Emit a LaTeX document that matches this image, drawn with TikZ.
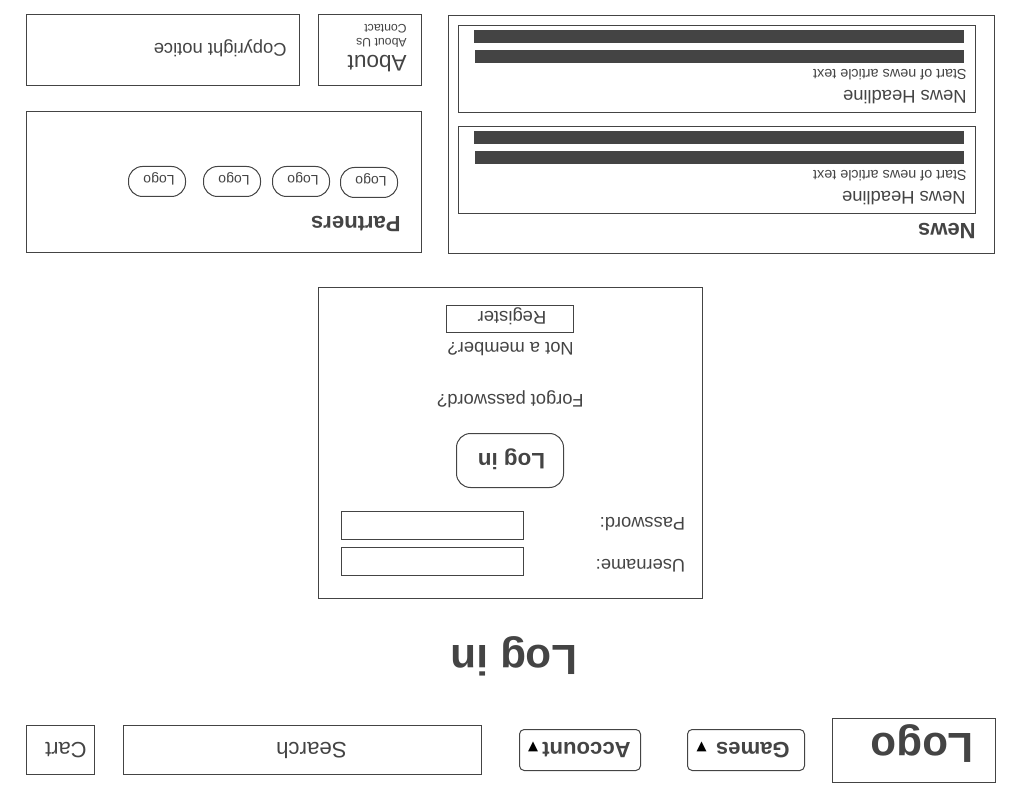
\documentclass[tikz,border=0pt]{standalone}
\usepackage{fontspec}
\setmainfont{Liberation Sans}
\newfontfamily\symfont{DejaVu Sans}
\definecolor{ink}{HTML}{444444}
\newcommand{\szf}[1]{\fontsize{\dimexpr #1pt*3/4\relax}{\dimexpr #1pt*9/10\relax}\selectfont}
\tikzset{
  boxst/.style={draw=ink,line width=0.75pt},
  pill/.style={boxst,rounded corners=10.5pt},
  menu/.style={boxst,rounded corners=3.5pt},
  bar/.style={fill=ink,draw=none},
  txt/.style={rotate=180,anchor=base west,inner sep=0pt,text=ink},
  ctxt/.style={rotate=180,anchor=base,inner sep=0pt,text=ink},
}
\begin{document}
\begin{tikzpicture}[x=0.75pt,y=-0.75pt]
\useasboundingbox (0,0) rectangle (1024,805);
% footer
\draw[boxst] (26.5,14.5) rectangle (299.5,85.5);
\node[txt] (copy) at (287,44) {\szf{18.4}Copyright notice};
\draw[boxst] (318.5,14.5) rectangle (421.5,85.5);
\node[txt] (about) at (407,56) {\szf{22.6}About};
\node[txt] (aboutus) at (407,38.5) {\szf{12.3}About Us};
\node[txt] (contact) at (407,24.5) {\szf{12.3}Contact};
% partners
\draw[boxst] (26.5,111.5) rectangle (421.5,252.5);
\node[txt] (partners) at (401,217) {\szf{22.1}\bfseries Partners};
\draw[pill] (340.5,167.5) rectangle (397.5,197.5);
\node[ctxt] (l1) at (371,176.5) {\szf{14}Logo};
\draw[pill] (272.5,166.5) rectangle (329.5,196.5);
\node[ctxt] (l2) at (303,175.5) {\szf{14}Logo};
\draw[pill] (203.5,166.5) rectangle (260.5,196.5);
\node[ctxt] (l3) at (234,175.5) {\szf{14}Logo};
\draw[pill] (128.5,166.5) rectangle (185.5,196.5);
\node[ctxt] (l4) at (159,175.5) {\szf{14}Logo};
% news
\draw[boxst] (448.5,15.5) rectangle (994.5,253.5);
\node[txt] (news) at (976,224) {\szf{22.1}\bfseries News};
\draw[boxst] (458.5,25.5) rectangle (975.5,112.5);
\fill[bar] (474,30) rectangle (964,43);
\fill[bar] (475,50) rectangle (964,63);
\node[txt] (s1) at (967,70) {\szf{14.4}Start of news article text};
\node[txt] (h1) at (967,91) {\szf{18.4}News Headline};
\draw[boxst] (458.5,126.5) rectangle (975.5,213.5);
\fill[bar] (474,131) rectangle (964,144);
\fill[bar] (475,151) rectangle (964,164);
\node[txt] (s2) at (967,171) {\szf{14.4}Start of news article text};
\node[txt] (h2) at (966,192) {\szf{18.4}News Headline};
% login form
\draw[boxst] (318.5,287.5) rectangle (702.5,598.5);
\draw[boxst] (446.5,305.5) rectangle (573.5,332.5);
\node[ctxt] (reg) at (512,312) {\szf{18.4}Register};
\node[txt] (member) at (574,343) {\szf{18.3}Not a member?};
\node[txt] (forgot) at (584,394) {\szf{18.3}Forgot password?};
\draw[pill] (456.5,433.5) rectangle (563.5,487.5);
\node[ctxt] (btn) at (511.5,453) {\szf{22.4}\bfseries Log in};
\draw[boxst] (341.5,511.5) rectangle (523.5,539.5);
\draw[boxst] (341.5,547.5) rectangle (523.5,575.5);
\node[txt] (pw) at (685.5,517) {\szf{18.3}Password:};
\node[txt] (un) at (685.5,559) {\szf{18.3}Username:};
% title
\node[txt] (title) at (578,645) {\szf{42.2}\bfseries Log in};
% top bar
\draw[boxst] (26.5,725.5) rectangle (94.5,774.5);
\node[txt] (cart) at (87,742) {\szf{22}Cart};
\draw[boxst] (123.5,725.5) rectangle (481.5,774.5);
\node[ctxt] (search) at (311.5,742) {\szf{22.3}Search};
\draw[menu] (519.5,729.5) rectangle (640.5,770.5);
\node[txt] (acc) at (631,742) {\szf{22.1}\bfseries Account};
\node[txt,text=black] (accm) at (538.5,743.5) {\szf{13}\symfont ▼};
\draw[menu] (687.5,729.5) rectangle (804.5,770.5);
\node[txt] (games) at (790,742) {\szf{22.1}\bfseries Games};
\node[txt,text=black] (gamm) at (707,743.5) {\szf{13}\symfont ▼};
\draw[boxst] (832.5,718.5) rectangle (995.5,782.5);
\node[txt] (logo) at (974,733) {\szf{42.1}\bfseries Logo};
\end{tikzpicture}
\end{document}
